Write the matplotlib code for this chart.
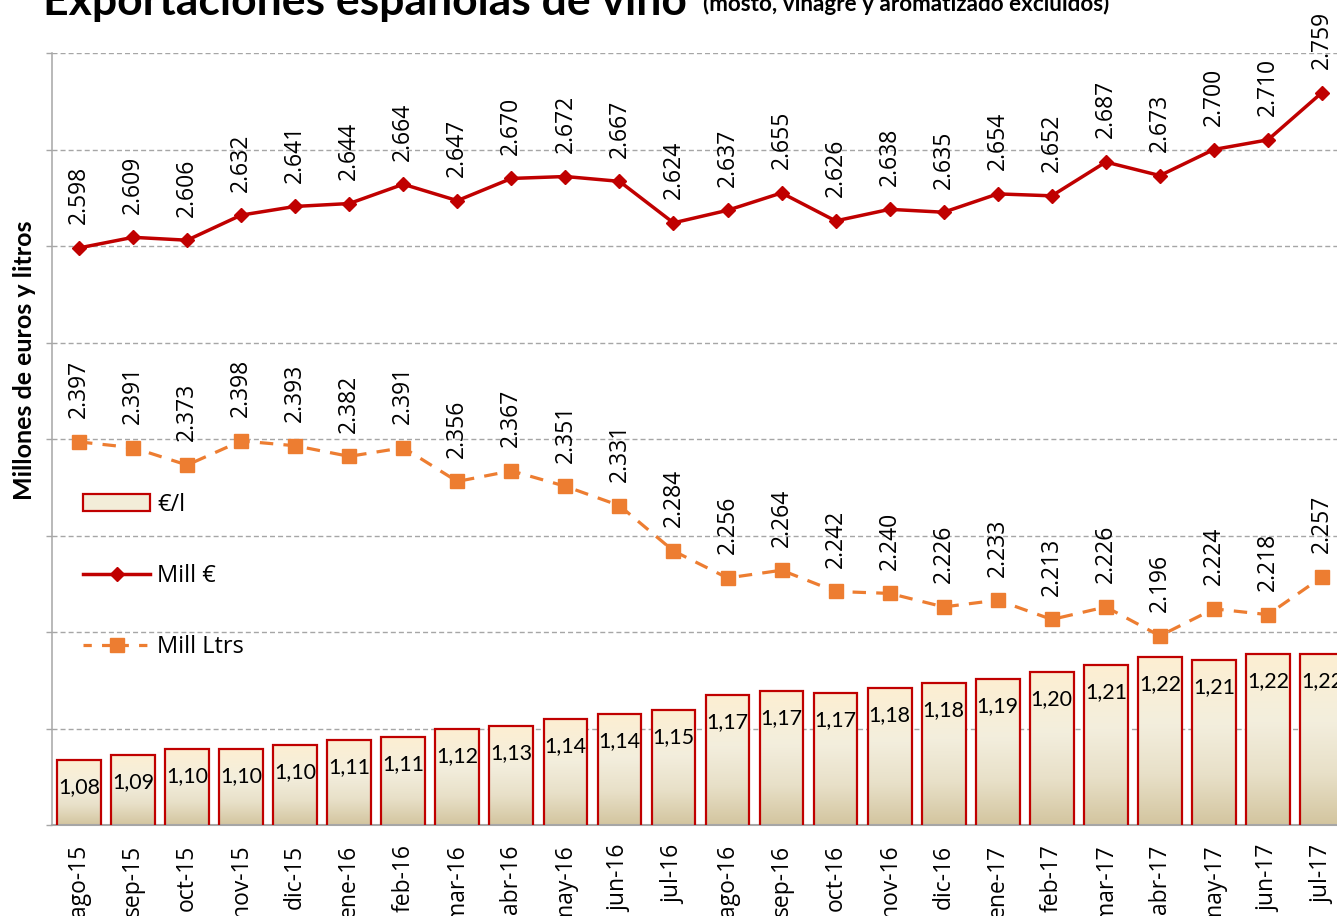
import numpy as np
import matplotlib
matplotlib.use("Agg")
import matplotlib.pyplot as plt
from matplotlib.lines import Line2D
from matplotlib.patches import Patch
from matplotlib.colors import LinearSegmentedColormap

meses = ["ago-15", "sep-15", "oct-15", "nov-15", "dic-15", "ene-16", "feb-16",
         "mar-16", "abr-16", "may-16", "jun-16", "jul-16", "ago-16", "sep-16",
         "oct-16", "nov-16", "dic-16", "ene-17", "feb-17", "mar-17", "abr-17",
         "may-17", "jun-17", "jul-17"]
mill_eur = [2598, 2609, 2606, 2632, 2641, 2644, 2664, 2647, 2670, 2672, 2667, 2624,
            2637, 2655, 2626, 2638, 2635, 2654, 2652, 2687, 2673, 2700, 2710, 2759]
mill_ltrs = [2397, 2391, 2373, 2398, 2393, 2382, 2391, 2356, 2367, 2351, 2331, 2284,
             2256, 2264, 2242, 2240, 2226, 2233, 2213, 2226, 2196, 2224, 2218, 2257]
eur_l = [1.084, 1.091, 1.098, 1.098, 1.104, 1.110, 1.114, 1.124, 1.128, 1.137, 1.144, 1.149,
         1.169, 1.173, 1.171, 1.178, 1.184, 1.189, 1.198, 1.207, 1.217, 1.214, 1.222, 1.222]
eur_l_labels = ["1,08", "1,09", "1,10", "1,10", "1,10", "1,11", "1,11", "1,12", "1,13",
                "1,14", "1,14", "1,15", "1,17", "1,17", "1,17", "1,18", "1,18", "1,19",
                "1,20", "1,21", "1,22", "1,21", "1,22", "1,22"]

RED = "#C00000"
ORANGE = "#ED7D31"
GRID = "#A6A6A6"
LBL_FONT = "Open Sans"
BAR_FONT = "Lato"

W, H = 1337, 916
fig = plt.figure(figsize=(W / 100, H / 100), dpi=100)
ax = fig.add_axes([52 / W, (H - 825) / H, 1297 / W, 772 / H])
ax2 = ax.twinx()

x = np.arange(len(meses))
bw = 0.81

# gradient bars
cmap = LinearSegmentedColormap.from_list(
    "g", [(0, "#D3C59F"), (0.3, "#E8E0C8"), (0.6, "#F3EEDD"), (1, "#FDEFD2")])
grad = np.linspace(0, 1, 256).reshape(-1, 1)
for xi, v in zip(x, eur_l):
    ax.imshow(grad, extent=[xi - bw / 2, xi + bw / 2, 1.0, v], origin="lower",
              aspect="auto", cmap=cmap, zorder=2, interpolation="bilinear")
ax.bar(x, eur_l, width=bw, facecolor="none", edgecolor=RED, linewidth=1.6, zorder=3)
for xi, v, lab in zip(x, eur_l, eur_l_labels):
    ax.annotate(lab, (xi, v), xytext=(0, -19.5), textcoords="offset points",
                ha="center", va="center", fontsize=15.5, family=BAR_FONT, color="black",
                zorder=4, annotation_clip=False)

ax.set_xlim(-0.5, len(meses) - 0.5)
ax.set_ylim(1.0, 2.0)
ax.set_yticks(np.linspace(1.0, 2.0, 9))
ax.set_yticklabels([])
ax.yaxis.grid(True, color=GRID, linewidth=1.0, linestyle=(0, (3.6, 2.2)))
ax.set_axisbelow(True)
ax.tick_params(axis="y", length=4, color=GRID, width=1)
ax.set_xticks(x)
ax.set_xticklabels(meses, rotation=90, fontsize=16.5, family=LBL_FONT)
ax.tick_params(axis="x", length=0, pad=14)
for s in ["top", "right"]:
    ax.spines[s].set_visible(False)
ax.spines["left"].set_color(GRID)
ax.spines["left"].set_linewidth(1.1)
ax.spines["bottom"].set_color(GRID)
ax.spines["bottom"].set_linewidth(1.5)

# lines
ax2.plot(x, mill_eur, color=RED, linewidth=2.5, marker="D", markersize=7.5, zorder=5,
         clip_on=False)
ax2.plot(x, mill_ltrs, color=ORANGE, linewidth=2.3, linestyle=(0, (4.2, 3.2)),
         marker="s", markersize=10, zorder=5, clip_on=False)
for xi, v in zip(x, mill_eur):
    ax2.annotate(f"{v:,}".replace(",", "."), (xi, v), xytext=(0, 17),
                 textcoords="offset points", rotation=90, ha="center", va="bottom",
                 fontsize=16.5, family=LBL_FONT, annotation_clip=False)
for xi, v in zip(x, mill_ltrs):
    ax2.annotate(f"{v:,}".replace(",", "."), (xi, v), xytext=(0, 17),
                 textcoords="offset points", rotation=90, ha="center", va="bottom",
                 fontsize=16.5, family=LBL_FONT, annotation_clip=False)
ax2.set_ylim(2000, 2800)
ax2.set_yticks([])
for s in ax2.spines.values():
    s.set_visible(False)

# legend
handles = [
    Patch(facecolor="#F3EDD9", edgecolor=RED, linewidth=1.6),
    Line2D([], [], color=RED, linewidth=2.5, marker="D", markersize=7.5),
    Line2D([], [], color=ORANGE, linewidth=2.3, linestyle=(0, (2.6, 3.2)), marker="s",
           markersize=10),
]
leg = fig.legend(handles, ["€/l", "Mill €", "Mill Ltrs"], loc="upper left",
                 bbox_to_anchor=(83 / W, 1 - 493 / H), frameon=False,
                 prop={"family": LBL_FONT, "size": 17}, handlelength=2.85,
                 handleheight=0.7, handletextpad=0.3, labelspacing=2.0,
                 borderpad=0, borderaxespad=0, numpoints=1)

# texts
fig.text(25 / W, 1 - 360 / H, "Millones de euros y litros", rotation=90, ha="center",
         va="center", fontsize=18, fontweight="bold", family="Lato")
fig.text(43 / W, 1 - 15 / H, "Exportaciones españolas de vino", ha="left",
         va="baseline", fontsize=32, fontweight="bold", family="Lato")
fig.text(703 / W, 1 - 11 / H, "(mosto, vinagre y aromatizado excluidos)", ha="left",
         va="baseline", fontsize=16.2, fontweight="bold", family="Lato")

fig.savefig("out.png", dpi=100)
